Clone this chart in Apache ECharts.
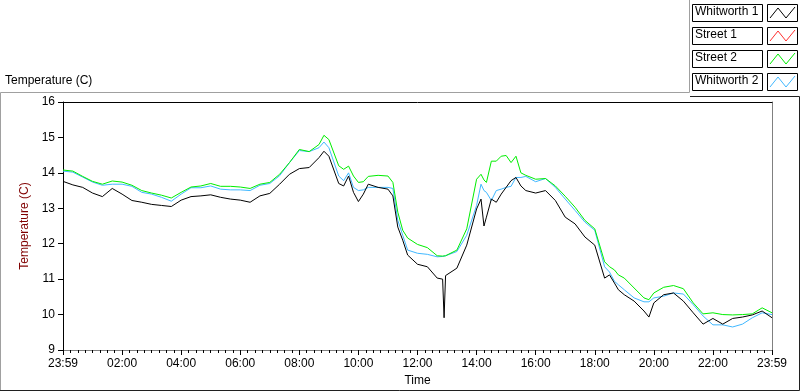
<!DOCTYPE html>
<html>
<head>
<meta charset="utf-8">
<script src="https://cdn.jsdelivr.net/npm/echarts@6/dist/echarts.min.js"></script>
<style>
  html, body { margin: 0; padding: 0; background: #fff; }
  #main { width: 800px; height: 392px; }
</style>
</head>
<body>
<div id="main"></div>
<script>
// minutes after midnight (0 = 23:59 of the previous day, 1440 = 23:59)
var times = [0, 20, 40, 60, 80, 100, 120, 140, 160, 180, 200, 220, 240, 260, 280, 300, 320, 340, 360, 380,
  400, 420, 440, 460, 480, 500, 520, 530, 540, 560, 570, 580, 590, 600, 610, 620, 640, 660, 670, 680,
  690, 700, 720, 740, 760, 771, 774, 777, 780, 800, 820, 840, 849, 855, 860, 870, 880, 890, 900, 910,
  920, 930, 940, 960, 980, 1000, 1020, 1040, 1060, 1080, 1100, 1110, 1120, 1128, 1140, 1160, 1180, 1190, 1200, 1220,
  1240, 1260, 1280, 1300, 1320, 1340, 1360, 1380, 1400, 1420, 1440];

var whitworth1 = [13.76, 13.66, 13.59, 13.43, 13.33, 13.56, 13.40, 13.22, 13.17, 13.11, 13.08, 13.05, 13.23, 13.33, 13.35, 13.38, 13.31, 13.26, 13.23, 13.17,
  13.35, 13.42, 13.68, 13.96, 14.12, 14.15, 14.43, 14.61, 14.47, 13.70, 13.63, 13.91, 13.45, 13.19, 13.40, 13.68, 13.59, 13.54, 13.35, 12.47,
  12.10, 11.68, 11.42, 11.35, 11.03, 11.00, 9.91, 11.10, 11.14, 11.31, 11.96, 12.98, 13.26, 12.50, 12.75, 13.26, 13.17, 13.40, 13.59, 13.78,
  13.87, 13.63, 13.50, 13.43, 13.50, 13.22, 12.75, 12.56, 12.19, 11.96, 11.03, 11.12, 10.89, 10.70, 10.56, 10.38, 10.10, 9.93, 10.33, 10.56,
  10.61, 10.38, 10.05, 9.73, 9.89, 9.73, 9.89, 9.93, 9.99, 10.10, 9.91];

var street1 = [];

var street2 = [14.08, 14.05, 13.90, 13.76, 13.68, 13.77, 13.74, 13.65, 13.50, 13.43, 13.37, 13.29, 13.45, 13.60, 13.63, 13.70, 13.62, 13.62, 13.60, 13.56,
  13.68, 13.73, 13.96, 14.29, 14.66, 14.60, 14.80, 15.06, 14.94, 14.20, 14.10, 14.19, 13.91, 13.73, 13.75, 13.90, 13.93, 13.91, 13.73, 12.89,
  12.38, 12.16, 11.98, 11.89, 11.66, 11.65, 11.65, 11.66, 11.66, 11.82, 12.42, 13.82, 13.96, 13.80, 13.73, 14.33, 14.33, 14.47, 14.49, 14.29,
  14.47, 14.00, 13.93, 13.82, 13.84, 13.63, 13.34, 13.03, 12.66, 12.42, 11.49, 11.35, 11.26, 11.12, 11.03, 10.75, 10.47, 10.42, 10.61, 10.77,
  10.82, 10.73, 10.33, 10.02, 10.05, 10.00, 9.99, 10.00, 10.02, 10.19, 10.05];

var whitworth2 = [14.05, 14.02, 13.88, 13.74, 13.65, 13.68, 13.68, 13.62, 13.45, 13.40, 13.31, 13.20, 13.40, 13.58, 13.58, 13.63, 13.54, 13.52, 13.52, 13.50,
  13.65, 13.70, 13.92, 14.29, 14.63, 14.60, 14.71, 14.87, 14.71, 13.91, 13.78, 14.00, 13.59, 13.50, 13.52, 13.59, 13.59, 13.59, 13.56, 12.66,
  12.24, 11.82, 11.73, 11.70, 11.63, 11.64, 11.65, 11.66, 11.66, 11.78, 12.24, 13.08, 13.68, 13.50, 13.45, 13.22, 13.50, 13.54, 13.59, 13.62,
  13.87, 13.87, 13.90, 13.75, 13.84, 13.59, 13.26, 12.94, 12.61, 12.38, 11.35, 11.20, 10.94, 10.84, 10.70, 10.47, 10.36, 10.36, 10.47, 10.52,
  10.61, 10.58, 10.28, 9.96, 9.71, 9.71, 9.65, 9.73, 9.91, 10.05, 10.00];

var seriesNames = ["Whitworth 1", "Street 1", "Street 2", "Whitworth 2"];
var seriesColors = ["#000000", "#ff3030", "#00ee00", "#40b8ff"];
var xTickLabels = ["23:59", "02:00", "04:00", "06:00", "08:00", "10:00", "12:00",
  "14:00", "16:00", "18:00", "20:00", "22:00", "23:59"];
var yTicks = [9, 10, 11, 12, 13, 14, 15, 16];

var font = "Liberation Sans";
var allValues = [whitworth1, street1, street2, whitworth2];

function pairs(vals) {
  return vals.map(function (v, i) { return [times[i], v]; });
}

// LabVIEW style legend: label box + swatch box for each plot
var legendGraphics = [];
seriesNames.forEach(function (name, i) {
  var top = 4 + i * 23;
  legendGraphics.push({
    type: "rect", silent: true,
    shape: { x: 692.5, y: top + 0.5, width: 70, height: 17 },
    style: { fill: "#fff", stroke: "#000", lineWidth: 1 }
  });
  legendGraphics.push({
    type: "text", silent: true, left: 695, top: top + 2,
    style: { text: name, fill: "#000", font: "12px " + font }
  });
  legendGraphics.push({
    type: "rect", silent: true,
    shape: { x: 767.5, y: top + 0.5, width: 30, height: 17 },
    style: { fill: "#fff", stroke: "#000", lineWidth: 1 }
  });
  legendGraphics.push({
    type: "polyline", silent: true,
    shape: { points: [[770, top + 14], [778, top + 4], [786, top + 14], [795, top + 3]] },
    style: { stroke: seriesColors[i], lineWidth: 1, fill: null }
  });
});

var chart = echarts.init(document.getElementById("main"));
var option = {
  animation: false,
  backgroundColor: "#fff",
  textStyle: { fontFamily: font },
  grid: { left: 63, top: 102, right: 28, bottom: 39, show: false },
  graphic: [
    {
      type: "polyline", silent: true,
      shape: { points: [[0.5, 391], [0.5, 92.5], [689.5, 92.5], [689.5, 0]] },
      style: { stroke: "#a0a0a0", lineWidth: 1, fill: null }
    },
    {
      type: "polyline", silent: true,
      shape: { points: [[0, 390.5], [799.5, 390.5], [799.5, 96.5], [690, 96.5]] },
      style: { stroke: "#202020", lineWidth: 1, fill: null }
    },
    {
      type: "text", silent: true, left: 5, top: 75,
      style: { text: "Temperature (C)", fill: "#000", font: "12px " + font }
    }
  ].concat(legendGraphics),
  xAxis: [
    {
      type: "value", min: 0, max: 1440, interval: 120,
      name: "Time", nameLocation: "middle", nameGap: 25,
      nameTextStyle: { color: "#000", fontSize: 12, fontFamily: font },
      axisLine: { show: true, onZero: false, lineStyle: { color: "#808080", width: 1 } },
      axisTick: { show: true, length: 5, lineStyle: { color: "#000" } },
      minorTick: { show: true, splitNumber: 8, length: 3, lineStyle: { color: "#000" } },
      splitLine: { show: false },
      axisLabel: {
        color: "#000", fontSize: 12, margin: 8, showMaxLabel: true, showMinLabel: true,
        formatter: function (v) { return xTickLabels[Math.round(v / 120)]; }
      }
    },
    {
      type: "value", min: 0, max: 1440, position: "top",
      axisLine: { show: true, onZero: false, lineStyle: { color: "#000", width: 1 } },
      axisTick: { show: false }, axisLabel: { show: false }, splitLine: { show: false }
    }
  ],
  yAxis: [
    {
      type: "value", min: yTicks[0], max: yTicks[yTicks.length - 1], interval: 1,
      position: "left",
      name: "Temperature (C)", nameLocation: "middle", nameGap: 31,
      nameTextStyle: { color: "#800000", fontSize: 12, fontFamily: font },
      axisLine: { show: true, onZero: false, lineStyle: { color: "#000", width: 1 } },
      axisTick: { show: true, length: 5, lineStyle: { color: "#000" } },
      splitLine: { show: false },
      axisLabel: { color: "#000", fontSize: 12, margin: 8 }
    },
    {
      type: "value", min: 9, max: 16, position: "right",
      axisLine: { show: true, onZero: false, lineStyle: { color: "#808080", width: 1 } },
      axisTick: { show: false }, axisLabel: { show: false }, splitLine: { show: false }
    }
  ],
  series: seriesNames.map(function (name, i) {
    return {
      name: name, type: "line", xAxisIndex: 0, yAxisIndex: 0,
      data: pairs(allValues[i]),
      showSymbol: false, symbol: "none",
      lineStyle: { color: seriesColors[i], width: 1 },
      itemStyle: { color: seriesColors[i] },
      z: 10 - i
    };
  })
};
chart.setOption(option);
</script>
</body>
</html>
